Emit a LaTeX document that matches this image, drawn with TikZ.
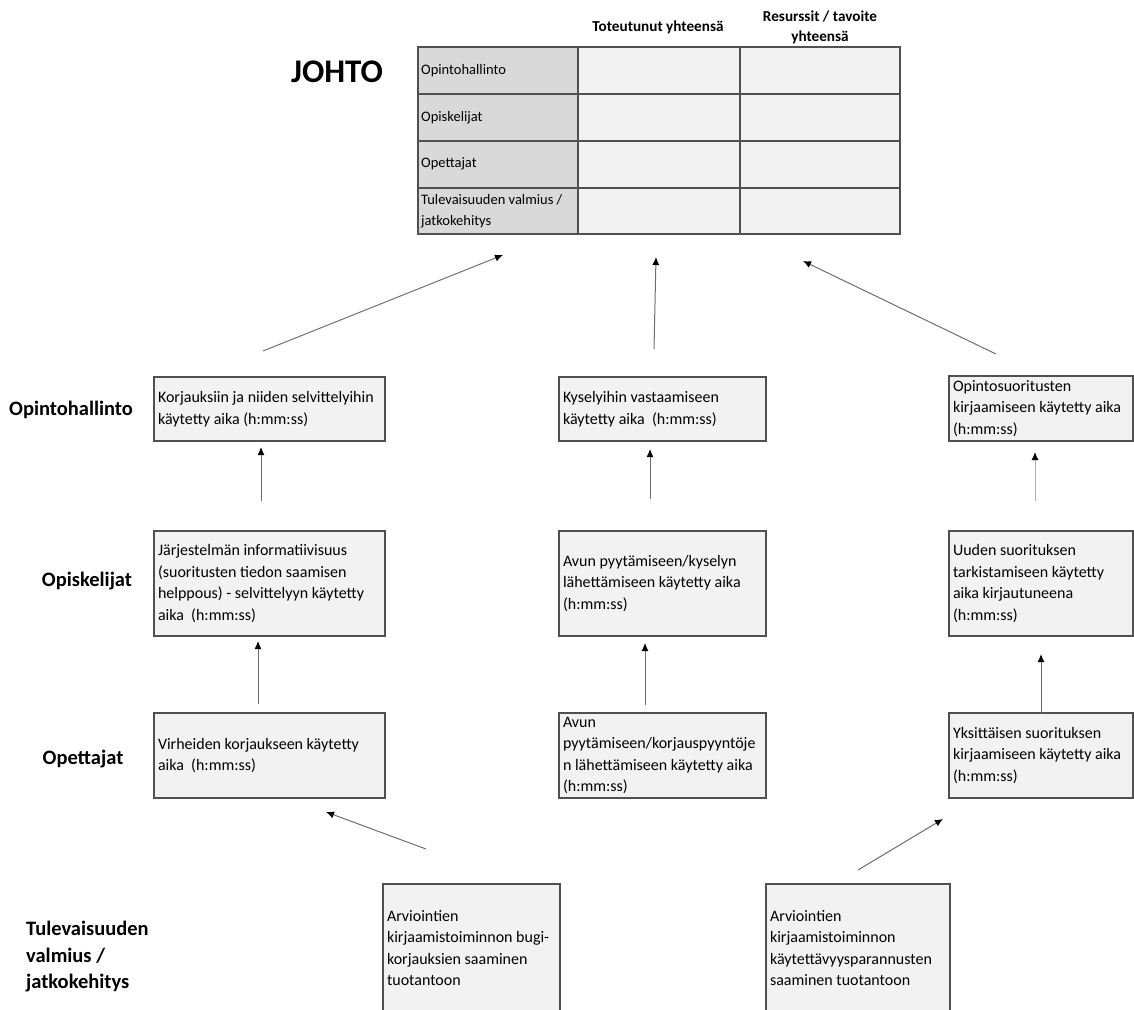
\documentclass[tikz,border=0pt]{standalone}
\usepackage{fontspec}
\setmainfont{Carlito}
\usetikzlibrary{arrows.meta}

\definecolor{boxline}{HTML}{505050}
\definecolor{boxfill}{HTML}{F2F2F2}
\definecolor{headfill}{HTML}{D9D9D9}
\definecolor{arrowgray}{HTML}{6E6E6E}

\begin{document}
\begin{tikzpicture}[x=1pt,y=-1pt,
  box/.style={draw=boxline, line width=1.5pt, fill=boxfill, align=flush left,
    inner xsep=4pt, inner ysep=0pt, anchor=center,
    font=\fontsize{16}{21.5}\selectfont},
  lvl/.style={font=\fontsize{20.5}{26.5}\selectfont\bfseries, align=flush left},
  cell/.style={font=\fontsize{14.5}{21}\selectfont, anchor=west, align=flush left, inner sep=0pt},
  colhead/.style={font=\fontsize{15.2}{20}\selectfont\bfseries, align=center, inner sep=0pt},
  flow/.style={draw=arrowgray, line width=1pt,
    -{Latex[length=8pt,width=7pt,color=black]}}
]
\useasboundingbox (0,0) rectangle (1134,1009);
\clip (0,0) rectangle (1134,1009);

% ---- management summary table ----
\node[font=\fontsize{33}{33}\selectfont\bfseries, inner sep=0pt] (johto) at (337,72) {JOHTO};
\node[colhead] (h1) at (658,27) {Toteutunut yhteensä};
\node[colhead] (h2) at (820,27) {Resurssit / tavoite\\yhteensä};

\fill[headfill] (418,47) rectangle (578,234);
\fill[boxfill] (578,47) rectangle (900,234);
\draw[boxline, line width=1.5pt] (418,47) rectangle (900,234);
\foreach \yy in {94,141,188} \draw[boxline, line width=1.5pt] (418,\yy) -- (900,\yy);
\foreach \xx in {578,740} \draw[boxline, line width=1.5pt] (\xx,47) -- (\xx,234);

\node[cell] (r1) at (421,71) {Opintohallinto};
\node[cell] (r2) at (421,118) {Opiskelijat};
\node[cell] (r3) at (421,164) {Opettajat};
\node[cell] (r4) at (421,211) {Tulevaisuuden valmius /\\jatkokehitys};

% ---- level labels ----
\node[lvl] (l1) at (71,410) {Opintohallinto};
\node[lvl] (l2) at (87,581) {Opiskelijat};
\node[lvl] (l3) at (83,759) {Opettajat};
\node[lvl, anchor=west, inner sep=0pt] (l4) at (26,957) {Tulevaisuuden\\valmius /\\jatkokehitys};

% ---- measure boxes ----
\node[box, text width=223pt, minimum height=64pt] (a1) at (269.5,409)
  {Korjauksiin ja niiden selvittelyihin\\käytetty aika (h:mm:ss)};
\node[box, text width=199pt, minimum height=64pt] (b1) at (662.5,409)
  {Kyselyihin vastaamiseen\\käytetty aika\ \ (h:mm:ss)};
\node[box, text width=176pt, minimum height=65pt] (c1) at (1041,408.5)
  {Opintosuoritusten\\kirjaamiseen käytetty aika\\(h:mm:ss)};

\node[box, text width=223pt, minimum height=105pt] (a2) at (269.5,583.5)
  {Järjestelmän informatiivisuus\\(suoritusten tiedon saamisen\\helppous) - selvittelyyn käytetty\\aika\ \ (h:mm:ss)};
\node[box, text width=199pt, minimum height=105pt] (b2) at (662.5,583.5)
  {Avun pyytämiseen/kyselyn\\lähettämiseen käytetty aika\\(h:mm:ss)};
\node[box, text width=176pt, minimum height=105pt] (c2) at (1041,583.5)
  {Uuden suorituksen\\tarkistamiseen käytetty\\aika kirjautuneena\\(h:mm:ss)};

\node[box, text width=223pt, minimum height=85pt] (a3) at (269.5,755.5)
  {Virheiden korjaukseen käytetty\\aika\ \ (h:mm:ss)};
\node[box, text width=199pt, minimum height=85pt] (b3) at (662.5,755.5)
  {Avun\\pyytämiseen/korjauspyyntöje\\n lähettämiseen käytetty aika\\(h:mm:ss)};
\node[box, text width=176pt, minimum height=85pt] (c3) at (1041,755.5)
  {Yksittäisen suorituksen\\kirjaamiseen käytetty aika\\(h:mm:ss)};

\node[box, text width=169pt, minimum height=128pt] (d1) at (471.5,948)
  {Arviointien\\kirjaamistoiminnon bugi-\\korjauksien saaminen\\tuotantoon};
\node[box, text width=176pt, minimum height=128pt] (d2) at (858,948)
  {Arviointien\\kirjaamistoiminnon\\käytettävyysparannusten\\saaminen tuotantoon};

% ---- arrow end points ----
\coordinate (t1s) at (263,351); \coordinate (t1e) at (503,255);
\coordinate (t2s) at (654,349); \coordinate (t2e) at (656,257);
\coordinate (t3s) at (996,354); \coordinate (t3e) at (803,261);

\coordinate (u1s) at (261,501); \coordinate (u1e) at (261,447);
\coordinate (u2s) at (650,499); \coordinate (u2e) at (650,449);
\coordinate (u3s) at (1035,501); \coordinate (u3e) at (1035,452);

\coordinate (v1s) at (258,704); \coordinate (v1e) at (258,641);
\coordinate (v2s) at (645,705); \coordinate (v2e) at (645,643);
\coordinate (v3s) at (1041,713); \coordinate (v3e) at (1041,654);

\coordinate (w1s) at (426,849); \coordinate (w1e) at (326,812);
\coordinate (w2s) at (858,870); \coordinate (w2e) at (943,819);

% ---- arrows ----
\draw[flow] (t1s) -- (t1e);
\draw[flow] (t2s) -- (t2e);
\draw[flow] (t3s) -- (t3e);
\draw[flow] (u1s) -- (u1e);
\draw[flow] (u2s) -- (u2e);
\draw[flow, draw=gray!60] (u3s) -- (u3e);
\draw[flow] (v1s) -- (v1e);
\draw[flow] (v2s) -- (v2e);
\draw[flow] (v3s) -- (v3e);
\draw[flow] (w1s) -- (w1e);
\draw[flow] (w2s) -- (w2e);
\end{tikzpicture}
\end{document}
